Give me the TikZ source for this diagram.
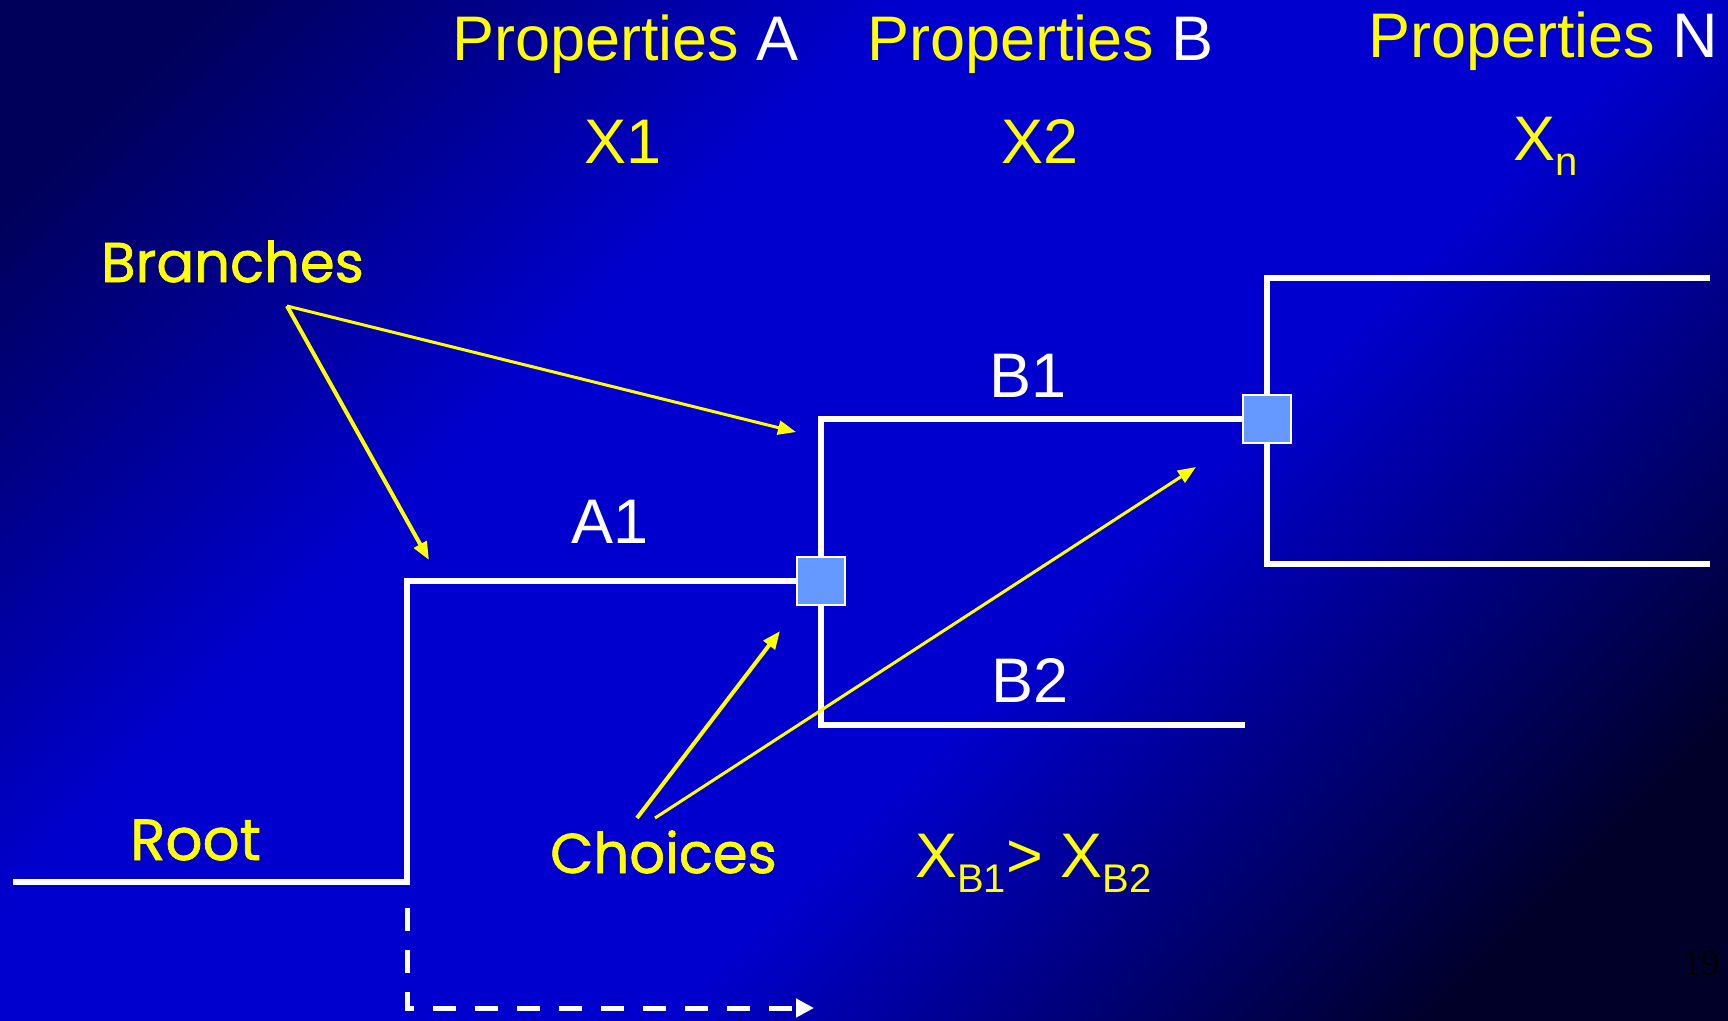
\documentclass[tikz,border=0pt]{standalone}
\usepackage{fontspec}
\setmainfont{Liberation Sans}
\newfontfamily\handfont[FakeBold=1.2]{Poppins}
\newfontfamily\slidenumfont{Liberation Serif}
\usetikzlibrary{arrows.meta, positioning, calc, backgrounds}

\definecolor{bgcorner}{RGB}{0,0,90}
\definecolor{bgmain}{RGB}{0,0,206}
\definecolor{bgend}{RGB}{0,0,40}
\definecolor{choicefill}{RGB}{102,153,255}
\definecolor{labelyellow}{RGB}{255,255,0}

\pgfdeclareverticalshading{slidebg}{100bp}{color(0bp)=(bgend); color(22bp)=(bgend); color(42bp)=(bgmain); color(62bp)=(bgmain); color(80bp)=(bgcorner); color(100bp)=(bgcorner)}

\newcommand{\subtxt}[1]{\raisebox{-15pt}{\fontsize{40}{44}\selectfont #1}}

\begin{document}
\begin{tikzpicture}[
    x=1pt, y=-1pt,
    branch/.style={draw=white, line width=6.5pt},
    choicebox/.style={rectangle, draw=white, line width=2pt, fill=choicefill,
                      minimum size=48pt, inner sep=0pt},
    heading/.style={font=\fontsize{63}{70}\selectfont, text=labelyellow, inner sep=0pt},
    handlabel/.style={font=\handfont\fontsize{56}{62}\selectfont, text=labelyellow, inner sep=0pt},
    pointer/.style={draw=labelyellow, line width=4pt, -{Triangle[length=18pt,width=14pt]}},
    thinpointer/.style={pointer, line width=3pt},
    future/.style={draw=white, line width=5pt, dash pattern=on 23pt off 19pt,
                   -{Triangle[length=18pt,width=18pt]}}
]

% slide background
\begin{scope}[on background layer]
\shade[shading=slidebg, shading angle=45] (0,0) rectangle (1728,1020);
\end{scope}
\useasboundingbox (0,0) rectangle (1728,1020);

% column headings
\node[heading, anchor=base west] (propA) at (452,60) {Properties \textcolor{white}{A}};
\node[heading, anchor=base west] (propB) at (867,60) {Properties \textcolor{white}{B}};
\node[heading, anchor=base west] (propN) at (1368,57) {Properties \textcolor{white}{N}};
\node[heading, anchor=base] (xone) at (623,163) {X1};
\node[heading, anchor=base] (xtwo) at (1040,163) {X2};
\node[heading, anchor=base west] (xn) at (1513,160) {X\subtxt{n}};

% decision points
\node[choicebox] (chA) at (821,581) {};
\node[choicebox] (chB) at (1267,419) {};

% tree
\coordinate (rootL) at (13,882);
\coordinate (rootR) at (407,882);
\coordinate (btwoEnd) at (1245,725);
\coordinate (ntop) at (1710,278);
\coordinate (nbot) at (1710,564);
\begin{scope}[on background layer]
\draw[branch] (rootL) -- (rootR) |- (chA.center);
\draw[branch] (chB.center) -| (chA.center);
\draw[branch] (chA.center) |- (btwoEnd);
\draw[branch] (ntop) -| (chB.center);
\draw[branch] (chB.center) |- (nbot);
\end{scope}

% branch labels
\node[heading, text=white, anchor=base] (aone) at (610,543) {A1};
\node[heading, text=white, anchor=base] (bone) at (1028,397) {B1};
\node[heading, text=white, anchor=base] (btwo) at (1030,702) {B2};

% hand-written notes
\node[handlabel, anchor=base west] (branches) at (101,282) {Branches};
\node[handlabel, anchor=base west, font=\handfont\fontsize{58}{64}\selectfont] (root) at (130,860) {Root};
\node[handlabel, anchor=base west] (choices) at (550,873) {Choices};
\node[heading, anchor=base west] (xcmp) at (915,877) {X\subtxt{B1}> X\subtxt{B2}};

% pointers
\coordinate (brFrom) at (287,306);
\coordinate (brA) at (429,560);
\coordinate (brB) at (796,432);
\coordinate (chFromA) at (637,818);
\coordinate (chFromB) at (655,818);
\coordinate (chToA) at (780,631);
\coordinate (chToB) at (1196,467);
\draw[pointer] (brFrom) -- (brA);
\draw[thinpointer] (brFrom) -- (brB);
\draw[pointer] (chFromA) -- (chToA);
\draw[thinpointer] (chFromB) -- (chToB);

% next step
\coordinate (dashTop) at (407,908);
\coordinate (dashCorner) at (407,1008);
\coordinate (dashEnd) at (814,1008);
\draw[future] (dashTop) -- (dashCorner) -- (dashEnd);

% slide number
\node[anchor=base east, inner sep=0pt, font=\slidenumfont\fontsize{37}{40}\selectfont,
      text=black] (slidenum) at (1720,975) {19};
\end{tikzpicture}
\end{document}
